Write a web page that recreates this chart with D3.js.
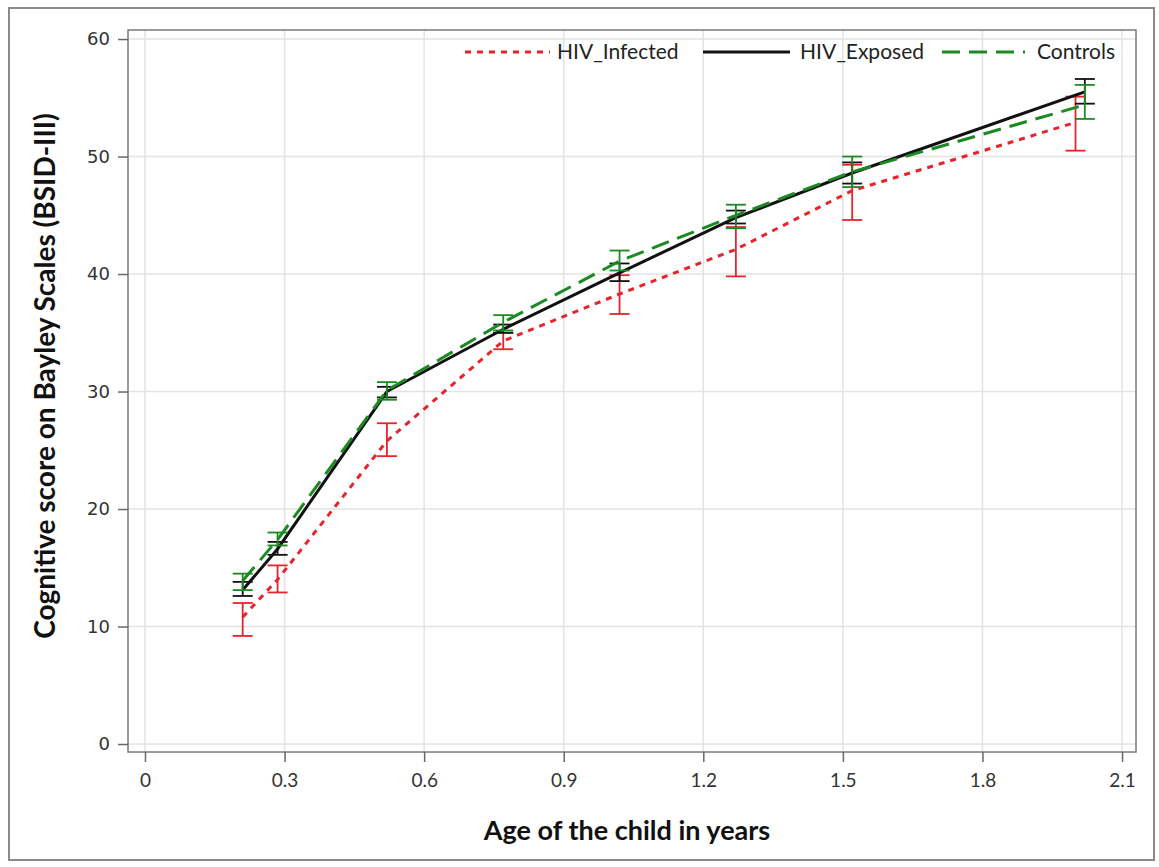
<!DOCTYPE html>
<html lang="en">
<head>
<meta charset="UTF-8">
<title>Cognitive score by age</title>
<style>
  body { margin: 0; background: #fff; }
</style>
</head>
<body>
<script src="https://d3js.org/d3.v7.min.js"></script>
<div id="chart"></div>
<script>
// ---- data ----
var groups = ["HIV_Infected", "HIV_Exposed", "Controls"];

var infectedAge  = [0.21, 0.285, 0.52, 0.77, 1.02, 1.27, 1.52, 2.00];
var infectedMean = [10.8, 14.0, 25.8, 34.3, 38.3, 42.1, 47.1, 52.9];
var infectedLow  = [9.2, 12.9, 24.5, 33.6, 36.6, 39.8, 44.6, 50.5];
var infectedHigh = [12.0, 15.2, 27.3, 35.0, 39.9, 44.0, 49.3, 55.1];

var exposedAge  = [0.21, 0.285, 0.52, 0.77, 1.02, 1.27, 1.52, 2.02];
var exposedMean = [13.1, 16.6, 30.0, 35.3, 40.1, 44.8, 48.6, 55.5];
var exposedLow  = [12.6, 16.1, 29.5, 35.0, 39.4, 44.3, 47.7, 54.5];
var exposedHigh = [13.8, 17.2, 30.4, 35.7, 40.9, 45.4, 49.5, 56.6];

var controlsAge  = [0.21, 0.285, 0.52, 0.77, 1.02, 1.27, 1.52, 2.02];
var controlsMean = [13.9, 17.4, 30.1, 35.9, 41.1, 45.0, 48.7, 54.4];
var controlsLow  = [13.1, 16.9, 29.3, 35.2, 40.3, 43.9, 47.4, 53.2];
var controlsHigh = [14.5, 18.0, 30.8, 36.5, 42.0, 45.9, 50.0, 56.1];

var xTicks = [0, 0.3, 0.6, 0.9, 1.2, 1.5, 1.8, 2.1];
var yTicks = [0, 10, 20, 30, 40, 50, 60];

// ---- layout ----
var W = 1159, H = 867;
var plot = {left: 128, top: 30, right: 1136, bottom: 752};

var svg = d3.select("#chart").append("svg")
  .attr("width", W).attr("height", H)
  .style("font-family", "Lato, 'Open Sans', sans-serif");

// outer frame
svg.append("rect")
  .attr("x", 9).attr("y", 8).attr("width", 1145).attr("height", 852)
  .attr("fill", "none").attr("stroke", "#8a8a8a").attr("stroke-width", 2);

var x = d3.scaleLinear().domain([-0.0365, 2.130]).range([plot.left, plot.right]);
var y = d3.scaleLinear().domain([-0.68, 60.77]).range([plot.bottom, plot.top]);

// grid
svg.append("g").selectAll("line").data(xTicks).enter().append("line")
  .attr("x1", function(d) { return x(d); }).attr("x2", function(d) { return x(d); })
  .attr("y1", plot.top).attr("y2", plot.bottom)
  .attr("stroke", "#e3e3e3").attr("stroke-width", 1.5);
svg.append("g").selectAll("line").data(yTicks).enter().append("line")
  .attr("y1", function(d) { return y(d); }).attr("y2", function(d) { return y(d); })
  .attr("x1", plot.left).attr("x2", plot.right)
  .attr("stroke", "#e3e3e3").attr("stroke-width", 1.5);

// plot frame
svg.append("rect")
  .attr("x", plot.left).attr("y", plot.top)
  .attr("width", plot.right - plot.left).attr("height", plot.bottom - plot.top)
  .attr("fill", "none").attr("stroke", "#7a7a7a").attr("stroke-width", 1.5);

// axes
var xAxis = svg.append("g")
  .attr("transform", "translate(0," + plot.bottom + ")")
  .call(d3.axisBottom(x).tickValues(xTicks).tickSize(10).tickPadding(12)
    .tickFormat(function(d) { return d === 0 ? "0" : d3.format(".1f")(d); }));
xAxis.select(".domain").remove();
xAxis.selectAll("line").attr("stroke", "#666").attr("stroke-width", 1.5);
xAxis.selectAll("text").style("font-size", "19px").attr("fill", "#333")
  .style("font-family", "Lato, sans-serif");

var yAxis = svg.append("g")
  .attr("transform", "translate(" + plot.left + ",0)")
  .call(d3.axisLeft(y).tickValues(yTicks).tickSize(10).tickPadding(8));
yAxis.select(".domain").remove();
yAxis.selectAll("line").attr("stroke", "#666").attr("stroke-width", 1.5);
yAxis.selectAll("text").style("font-size", "18px").attr("fill", "#333")
  .style("font-family", "'DejaVu Sans', sans-serif");

// axis titles
svg.append("text")
  .attr("x", 627).attr("y", 840)
  .attr("text-anchor", "middle")
  .style("font-size", "27px").style("font-weight", "bold").attr("fill", "#111")
  .text("Age of the child in years");

svg.append("text")
  .attr("transform", "translate(55,376) rotate(-90)")
  .attr("text-anchor", "middle")
  .style("font-size", "28px").style("font-weight", "bold").attr("fill", "#111")
  .text("Cognitive score on Bayley Scales (BSID-III)");

// series
function rows(age, mean, low, high) {
  return age.map(function(a, i) { return {age: a, mean: mean[i], low: low[i], high: high[i]}; });
}
var series = [
  {name: groups[0], color: "#e8232b", dash: "6,6", rows: rows(infectedAge, infectedMean, infectedLow, infectedHigh)},
  {name: groups[1], color: "#111111", dash: null, rows: rows(exposedAge, exposedMean, exposedLow, exposedHigh)},
  {name: groups[2], color: "#1c8a22", dash: "18,9", rows: rows(controlsAge, controlsMean, controlsLow, controlsHigh)}
];

var line = d3.line().x(function(d) { return x(d.age); }).y(function(d) { return y(d.mean); });
var cap = 10;

series.forEach(function(s) {
  var g = svg.append("g");
  g.append("path").datum(s.rows)
    .attr("d", line).attr("fill", "none")
    .attr("stroke", s.color).attr("stroke-width", 3)
    .attr("stroke-dasharray", s.dash);

  var eb = g.selectAll(".eb").data(s.rows).enter().append("g");
  eb.append("line")
    .attr("x1", function(d) { return x(d.age); }).attr("x2", function(d) { return x(d.age); })
    .attr("y1", function(d) { return y(d.low); }).attr("y2", function(d) { return y(d.high); })
    .attr("stroke", s.color).attr("stroke-width", 1.8);
  ["low", "high"].forEach(function(k) {
    eb.append("line")
      .attr("x1", function(d) { return x(d.age) - cap; }).attr("x2", function(d) { return x(d.age) + cap; })
      .attr("y1", function(d) { return y(d[k]); }).attr("y2", function(d) { return y(d[k]); })
      .attr("stroke", s.color).attr("stroke-width", 1.8);
  });
});

// legend
var legendItems = [
  {i: 0, x0: 465, x1: 550, tx: 557},
  {i: 1, x0: 703, x1: 790, tx: 800},
  {i: 2, x0: 942, x1: 1025, tx: 1037}
];
var lg = svg.append("g");
legendItems.forEach(function(it) {
  var s = series[it.i];
  lg.append("line")
    .attr("x1", it.x0).attr("x2", it.x1).attr("y1", 52).attr("y2", 52)
    .attr("stroke", s.color).attr("stroke-width", 3)
    .attr("stroke-dasharray", s.dash);
  lg.append("text")
    .attr("x", it.tx).attr("y", 59)
    .style("font-size", "21px").attr("fill", "#222")
    .text(s.name);
});
</script>
</body>
</html>
